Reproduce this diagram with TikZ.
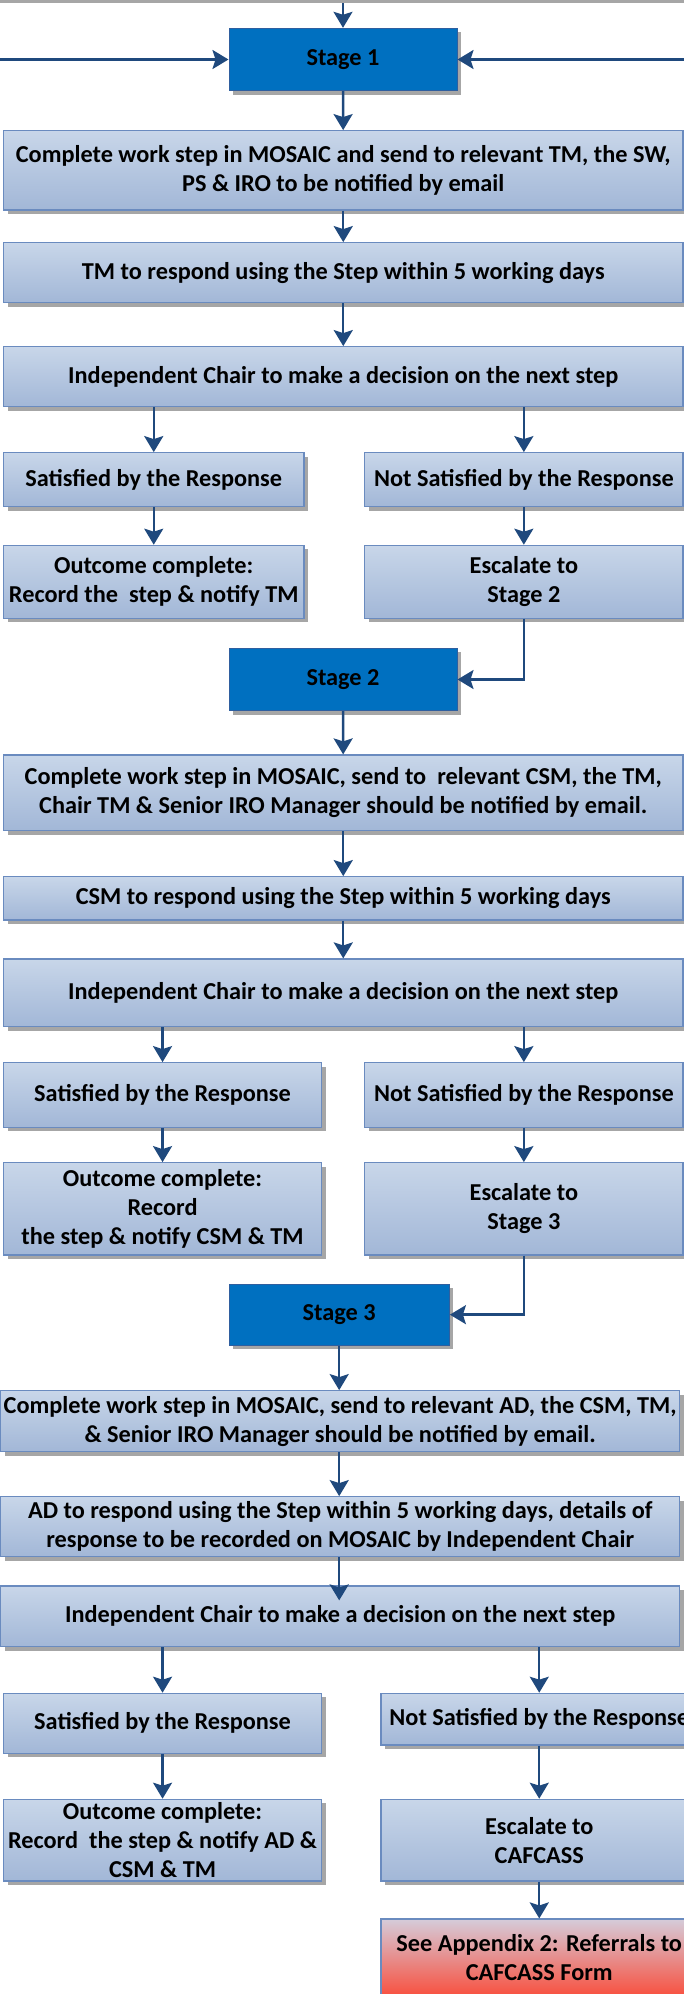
\documentclass[tikz,border=0pt]{standalone}
\usepackage{fontspec}
\setmainfont{Carlito}
\usetikzlibrary{arrows.meta,shadows}
\definecolor{boxtop}{HTML}{C8D6E9}
\definecolor{boxbot}{HTML}{A2B7D7}
\definecolor{boxline}{HTML}{6A8BBF}
\definecolor{stagefill}{HTML}{0070C0}
\definecolor{stageline}{HTML}{2F5F9F}
\definecolor{arr}{HTML}{1F497D}
\definecolor{redtop}{HTML}{D5CCDA}
\definecolor{redbot}{HTML}{F8503F}
\definecolor{shadc}{HTML}{A6A6A6}
\tikzset{
 base/.style={rectangle, inner sep=0pt, align=center, font=\bfseries\fontsize{24.3}{29}\selectfont, text=black},
 shd/.style={drop shadow={shadow xshift=4pt, shadow yshift=-4pt, fill=shadc, opacity=1}},
 box/.style={base, shd, draw=boxline, line width=1.2pt, top color=boxtop, bottom color=boxbot},
 stagebox/.style={base, shd, draw=stageline, line width=1pt, fill=stagefill},
 redbox/.style={base, draw=boxline, line width=1.2pt, top color=redtop, bottom color=redbot},
 arrow/.style={draw=arr, line width=2.4pt, -{Stealth[length=16pt,width=19pt,inset=3pt]}},
}
\begin{document}
\begin{tikzpicture}[x=1pt,y=-1pt]
\useasboundingbox (0,0) rectangle (684,1994);
\fill[shadc] (0,0) rectangle (684,3.3);
% Stage 1
\node[stagebox, minimum width=228pt, minimum height=62.4pt] (S1) at (343,59.5) {Stage 1};
\node[box, minimum width=679.5pt, minimum height=79.3pt] (A) at (343.25,170.35) {Complete work step in MOSAIC and send to relevant TM, the SW,\\PS \& IRO to be notified by email};
\node[box, minimum width=679.5pt, minimum height=60pt] (B) at (343.25,272.7) {TM to respond using the Step within 5 working days};
\node[box, minimum width=679.5pt, minimum height=60pt] (C) at (343.25,376.7) {Independent Chair to make a decision on the next step};
\node[box, minimum width=300.5pt, minimum height=54pt] (D) at (153.75,479.7) {Satisfied by the Response};
\node[box, minimum width=318.3pt, minimum height=54pt] (E) at (523.85,479.7) {Not Satisfied by the Response};
\node[box, minimum width=300.5pt, minimum height=73pt] (F) at (153.75,581.8) {Outcome complete:\\Record the~ step \& notify TM};
\node[box, minimum width=318.3pt, minimum height=73pt] (G) at (523.85,581.8) {Escalate to\\Stage 2};
% Stage 2
\node[stagebox, minimum width=228pt, minimum height=62.4pt] (S2) at (343,679.5) {Stage 2};
\node[box, minimum width=679.5pt, minimum height=75.7pt] (H) at (343.25,792.85) {Complete work step in MOSAIC, send to~ relevant CSM, the TM,\\Chair TM \& Senior IRO Manager should be notified by email.};
\node[box, minimum width=679.5pt, minimum height=43.3pt] (I) at (343.25,898.35) {CSM to respond using the Step within 5 working days};
\node[box, minimum width=679.5pt, minimum height=67.7pt] (J) at (343.25,992.85) {Independent Chair to make a decision on the next step};
\node[box, minimum width=318.1pt, minimum height=64.6pt] (K) at (162.55,1095) {Satisfied by the Response};
\node[box, minimum width=318.3pt, minimum height=64.6pt] (L) at (523.85,1095) {Not Satisfied by the Response};
\node[box, minimum width=318.1pt, minimum height=92.3pt] (M) at (162.55,1208.85) {Outcome complete:\\Record\\the step \& notify CSM \& TM};
\node[box, minimum width=318.3pt, minimum height=92.3pt] (N) at (523.85,1208.85) {Escalate to\\Stage 3};
% Stage 3
\node[stagebox, minimum width=220.4pt, minimum height=60.7pt] (S3) at (339.2,1314.65) {Stage 3};
\node[box, minimum width=679pt, minimum height=61pt] (O) at (340.2,1421.2) {Complete work step in MOSAIC, send to relevant AD, the CSM, TM,\\\& Senior IRO Manager should be notified by email.};
\node[box, minimum width=679pt, minimum height=60pt] (P) at (340.2,1526.7) {AD to respond using the Step within 5 working days, details of\\response to be recorded on MOSAIC by Independent Chair};
\node[box, minimum width=679pt, minimum height=60.7pt] (Q) at (340.2,1616.35) {Independent Chair to make a decision on the next step};
\node[box, minimum width=318.1pt, minimum height=60pt] (R) at (162.55,1723.3) {Satisfied by the Response};
\node[box, minimum width=316.7pt, minimum height=51.7pt] (S) at (539.25,1719.15) {Not Satisfied by the Response};
\node[box, minimum width=318.1pt, minimum height=81.7pt] (T) at (162.55,1840.15) {Outcome complete:\\Record~ the step \& notify AD \&\\CSM \& TM};
\node[box, minimum width=316.7pt, minimum height=81.7pt] (U) at (539.25,1840.15) {Escalate to\\CAFCASS};
\node[redbox, minimum width=316.7pt, minimum height=77pt] (V) at (539.25,1957.5) {See Appendix 2: Referrals to\\CAFCASS Form};
% incoming connectors
\coordinate (inT) at (343,3.3);
\coordinate (inL) at (0,59.5);
\coordinate (inR) at (684,59.5);
\draw[arrow] (inT) -- (S1.north);
\draw[arrow] (inL) -- (S1.west);
\draw[arrow] (inR) -- (S1.east);
% stage 1 flow
\draw[arrow] (S1) -- (A);
\draw[arrow] (A) -- (B);
\draw[arrow] (B) -- (C);
\draw[arrow] (D.north |- C.south) -- (D.north);
\draw[arrow] (E.north |- C.south) -- (E.north);
\draw[arrow] (D) -- (F);
\draw[arrow] (E) -- (G);
\draw[arrow] (G.south) |- (S2.east);
% stage 2 flow
\draw[arrow] (S2) -- (H);
\draw[arrow] (H) -- (I);
\draw[arrow] (I) -- (J);
\draw[arrow] (K.north |- J.south) -- (K.north);
\draw[arrow] (L.north |- J.south) -- (L.north);
\draw[arrow] (K) -- (M);
\draw[arrow] (L) -- (N);
\draw[arrow] (N.south) |- (S3.east);
% stage 3 flow
\draw[arrow] (S3.south) -- (S3.south |- O.north);
\draw[arrow] (S3.south |- O.south) -- (S3.south |- P.north);
\draw[arrow] (S3.south |- P.south) -- ([yshift=-15pt]S3.south |- Q.north);
\draw[arrow] (R.north |- Q.south) -- (R.north);
\draw[arrow] (S.north |- Q.south) -- (S.north);
\draw[arrow] (R) -- (T);
\draw[arrow] (S) -- (U);
\draw[arrow] (U) -- (V);
\end{tikzpicture}
\end{document}
